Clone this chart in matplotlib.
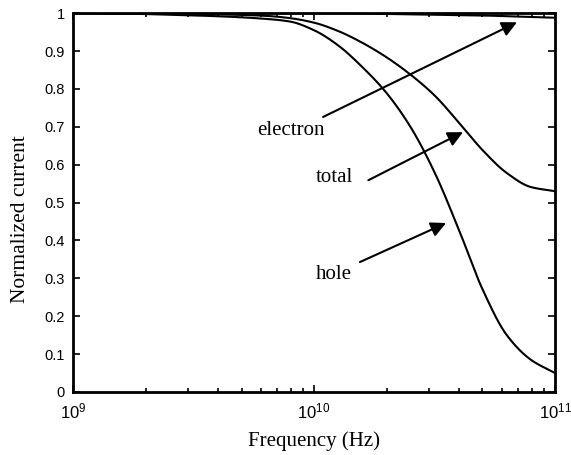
import matplotlib
matplotlib.use("Agg")
import matplotlib.pyplot as plt
import numpy as np
from matplotlib.ticker import LogLocator, FixedFormatter, FixedLocator

# values, on a grid of log10(frequency / Hz)
log_freq = [9.0, 9.2, 9.4, 9.6, 9.8, 9.9, 10.0, 10.1, 10.2, 10.3, 10.4, 10.5, 10.6,
            10.7, 10.8, 10.9, 11.0]
hole = [1.000, 0.999, 0.996, 0.992, 0.985, 0.978, 0.955, 0.915, 0.858, 0.790, 0.700,
        0.580, 0.430, 0.270, 0.150, 0.085, 0.050]
total = [1.000, 1.000, 0.999, 0.997, 0.993, 0.987, 0.975, 0.953, 0.922, 0.884, 0.838,
         0.783, 0.712, 0.638, 0.578, 0.541, 0.530]
electron = [1.000, 1.000, 1.000, 1.000, 1.000, 1.000, 1.000, 1.000, 0.999, 0.998, 0.997,
            0.996, 0.995, 0.994, 0.992, 0.990, 0.988]

yticks = [0, 0.1, 0.2, 0.3, 0.4, 0.5, 0.6, 0.7, 0.8, 0.9, 1]
ytick_labels = ["0", "0.1", "0.2", "0.3", "0.4", "0.5", "0.6", "0.7", "0.8", "0.9", "1"]


def pchip(x, y, xs):
    # monotone cubic (Fritsch-Carlson) so the read points join smoothly
    x = np.asarray(x, float)
    y = np.asarray(y, float)
    h = np.diff(x)
    d = np.diff(y) / h
    m = np.zeros_like(y)
    m[0], m[-1] = d[0], d[-1]
    for k in range(1, len(x) - 1):
        if d[k - 1] * d[k] > 0:
            w1 = 2 * h[k] + h[k - 1]
            w2 = h[k] + 2 * h[k - 1]
            m[k] = (w1 + w2) / (w1 / d[k - 1] + w2 / d[k])
    i = np.clip(np.searchsorted(x, xs) - 1, 0, len(x) - 2)
    t = (xs - x[i]) / h[i]
    h00 = 2 * t ** 3 - 3 * t ** 2 + 1
    h10 = t ** 3 - 2 * t ** 2 + t
    h01 = -2 * t ** 3 + 3 * t ** 2
    h11 = t ** 3 - t ** 2
    return h00 * y[i] + h10 * h[i] * m[i] + h01 * y[i + 1] + h11 * h[i] * m[i + 1]


plt.rcParams["mathtext.fontset"] = "custom"
plt.rcParams["mathtext.rm"] = "Liberation Sans"
plt.rcParams["mathtext.it"] = "Liberation Sans"

fig = plt.figure(figsize=(5.71, 4.55), dpi=100)
ax = fig.add_axes([0.128, 0.1385, 0.844, 0.8325])

xs = np.linspace(log_freq[0], log_freq[-1], 500)
for v in [hole, total, electron]:
    ax.plot(10 ** xs, pchip(log_freq, v, xs), color="k", lw=1.5)

ax.set_xscale("log")
ax.set_xlim(1e9, 1e11)
ax.set_ylim(0, 1)
ax.yaxis.set_major_locator(FixedLocator(yticks))
ax.yaxis.set_major_formatter(FixedFormatter(ytick_labels))
ax.xaxis.set_major_locator(LogLocator(base=10, numticks=5))
ax.xaxis.set_minor_locator(LogLocator(base=10, subs=np.arange(2, 10), numticks=20))

ax.tick_params(which="both", direction="in", top=True, right=True, width=1.2, colors="k")
ax.tick_params(which="major", length=5)
ax.tick_params(which="minor", length=3)
ax.tick_params(axis="y", labelsize=10.5, pad=6)
ax.tick_params(axis="x", labelsize=12, pad=7)
for lab in ax.get_xticklabels() + ax.get_yticklabels():
    lab.set_family("Liberation Sans")
for s in ax.spines.values():
    s.set_linewidth(2)

serif = "Liberation Serif"
ax.set_xlabel("Frequency (Hz)", family=serif, fontsize=15)
ax.set_ylabel("Normalized current", family=serif, fontsize=15.5)
ax.xaxis.set_label_coords(0.5, -0.105)
ax.yaxis.set_label_coords(-0.089, 0.456)

arrow = dict(arrowstyle="-|>,head_length=0.9,head_width=0.45", color="k", lw=1.5,
             shrinkA=0, shrinkB=0)
# arrow from tail (xytext) to head (xy), label placed separately
ax.annotate("", xy=(6.95e10, 0.976), xytext=(1.09e10, 0.726), arrowprops=arrow)
ax.text(8.04e9, 0.689, "electron", family=serif, fontsize=15, ha="center", va="center")
ax.annotate("", xy=(4.15e10, 0.686), xytext=(1.68e10, 0.559), arrowprops=arrow)
ax.text(1.21e10, 0.565, "total", family=serif, fontsize=15, ha="center", va="center")
ax.annotate("", xy=(3.53e10, 0.446), xytext=(1.55e10, 0.343), arrowprops=arrow)
ax.text(1.21e10, 0.309, "hole", family=serif, fontsize=15, ha="center", va="center")

fig.savefig("out.png", dpi=100)
